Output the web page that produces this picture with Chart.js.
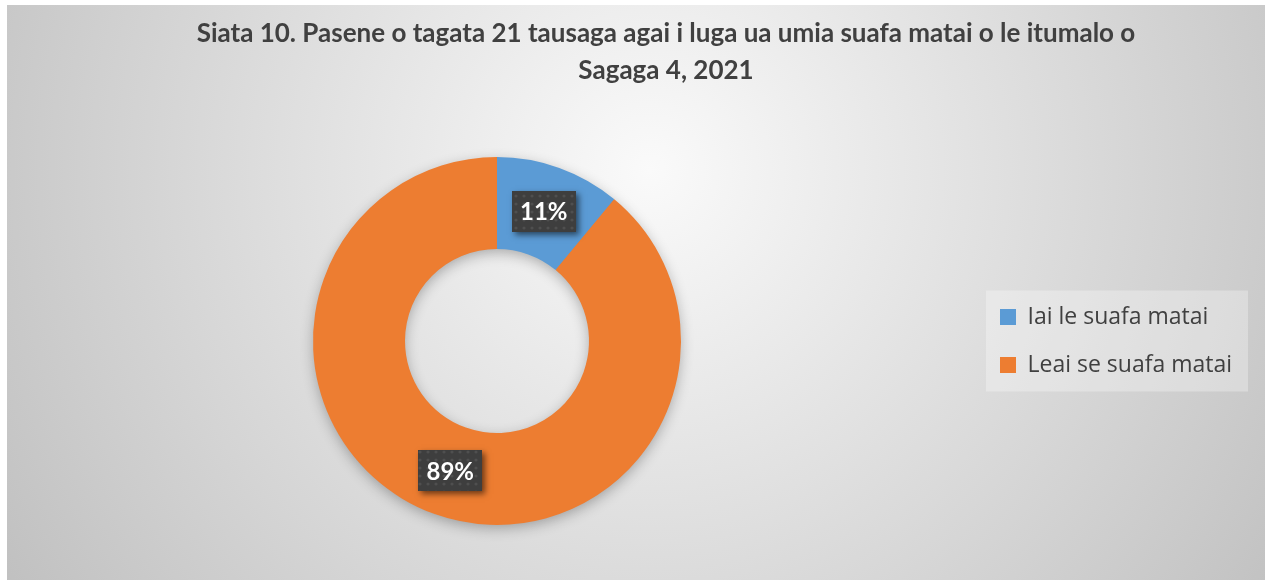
<!DOCTYPE html>
<html>
<head>
<meta charset="utf-8">
<script src="https://cdn.jsdelivr.net/npm/chart.js@4.4.0/dist/chart.umd.min.js"></script>
<style>
  html, body { margin: 0; padding: 0; background: #fff; overflow: hidden; }
  #wrap { width: 1265px; height: 580px; position: relative; }
</style>
</head>
<body>
<div id="wrap"><canvas id="chart"></canvas></div>
<script>
/* --- Data --- */
const TITLE_LINES = [
  'Siata 10. Pasene o tagata 21 tausaga agai i luga ua umia suafa matai o le itumalo o',
  'Sagaga 4, 2021'
];
const CATEGORIES = ['Iai le suafa matai', 'Leai se suafa matai'];
const VALUES = [11, 89];
const COLORS = ['#5B9BD5', '#ED7D31'];

/* --- Look --- */
const W = 1265, H = 580;
const FONT = 'Lato, "Open Sans", sans-serif';
const LEGEND_FONT = '"Open Sans", Lato, sans-serif';
const TEXT = '#404040';
const LEGEND_SIZE = 23;
const LEGEND_PAD = 25;
const LEGEND_BOX = 16;
const LEGEND_LEFT = 975;

// legend width is computed by Chart.js from the text, so pick right padding to land it where we want
const mctx = document.createElement('canvas').getContext('2d');
mctx.font = `${LEGEND_SIZE}px ${LEGEND_FONT}`;
const maxText = Math.max(...CATEGORIES.map(t => mctx.measureText(t).width));
const legendW = LEGEND_PAD + LEGEND_BOX + LEGEND_SIZE / 2 + maxText + 10;
const padRight = Math.max(0, W - LEGEND_LEFT - legendW);

/* dotted fill for the data label boxes */
function dotPattern(ctx) {
  const p = document.createElement('canvas');
  p.width = 8; p.height = 8;
  const pc = p.getContext('2d');
  pc.fillStyle = '#3e3e3e';
  pc.fillRect(0, 0, 8, 8);
  pc.fillStyle = 'rgba(255,255,255,0.09)';
  pc.beginPath(); pc.arc(4, 4, 1.6, 0, Math.PI * 2); pc.fill();
  return ctx.createPattern(p, 'repeat');
}

/* --- Background, legend panel and title --- */
const backdrop = {
  id: 'backdrop',
  beforeDraw(chart) {
    const c = chart.ctx;
    c.save();
    const g = c.createRadialGradient(650, 170, 0, 650, 170, 770);
    g.addColorStop(0, '#fafafa');
    g.addColorStop(1, '#c0c0c0');
    c.fillStyle = g;
    c.fillRect(7, 5, W - 7, H - 5);

    const lg = chart.legend;
    const hb = lg.legendHitBoxes;
    if (hb && hb.length) {
      const first = hb[0], last = hb[hb.length - 1];
      c.fillStyle = 'rgba(255,255,255,0.3)';
      c.fillRect(986, first.top - 15, 262, last.top + last.height - first.top + 30);
    }

    c.fillStyle = TEXT;
    c.font = `bold 26px ${FONT}`;
    c.textAlign = 'center';
    c.textBaseline = 'middle';
    TITLE_LINES.forEach((t, i) => c.fillText(t, 666, 34 + i * 37));
    c.restore();
  }
};

/* --- Soft shadow under the ring --- */
const ringShadow = {
  id: 'ringShadow',
  beforeDatasetsDraw(chart) {
    const a = chart.getDatasetMeta(0).data[0];
    if (!a) return;
    const c = chart.ctx;
    c.save();
    c.shadowColor = 'rgba(0,0,0,0.3)';
    c.shadowBlur = 14;
    c.shadowOffsetY = 4;
    c.fillStyle = COLORS[1];
    c.beginPath();
    c.arc(a.x, a.y, a.outerRadius - 1, 0, Math.PI * 2);
    c.arc(a.x, a.y, a.innerRadius + 1, 0, Math.PI * 2, true);
    c.fill();
    c.restore();
  }
};

/* --- Percentage labels --- */
const pctLabels = {
  id: 'pctLabels',
  afterDatasetsDraw(chart) {
    const c = chart.ctx;
    const total = VALUES.reduce((s, v) => s + v, 0);
    const pat = dotPattern(c);
    chart.getDatasetMeta(0).data.forEach((arc, i) => {
      const { x, y } = arc.tooltipPosition();
      const txt = Math.round(VALUES[i] / total * 100) + '%';
      c.save();
      c.font = `bold 24px ${FONT}`;
      const w = 64, h = 41;
      const bx = Math.round(x - w / 2), by = Math.round(y - h / 2);
      c.shadowColor = 'rgba(0,0,0,0.55)';
      c.shadowBlur = 6;
      c.shadowOffsetX = 3;
      c.shadowOffsetY = 3;
      c.fillStyle = '#3e3e3e';
      c.fillRect(bx, by, w, h);
      c.shadowColor = 'transparent';
      c.fillStyle = pat;
      c.fillRect(bx, by, w, h);
      c.fillStyle = '#ffffff';
      c.textAlign = 'center';
      c.textBaseline = 'middle';
      c.fillText(txt, x, y + 1);
      c.restore();
    });
  }
};

/* --- Chart --- */
const chart = new Chart(document.getElementById('chart'), {
  type: 'doughnut',
  data: {
    labels: CATEGORIES,
    datasets: [{
      data: VALUES,
      backgroundColor: COLORS,
      borderWidth: 0,
      hoverOffset: 0
    }]
  },
  options: {
    responsive: true,
    maintainAspectRatio: false,
    devicePixelRatio: 1,
    animation: false,
    cutout: '50%',
    layout: { padding: { top: 157, bottom: 55, left: 19, right: padRight } },
    plugins: {
      title: { display: false },
      tooltip: { enabled: false },
      legend: {
        position: 'right',
        labels: {
          color: TEXT,
          font: { family: LEGEND_FONT, size: LEGEND_SIZE },
          boxWidth: LEGEND_BOX,
          boxHeight: LEGEND_BOX,
          padding: LEGEND_PAD
        }
      }
    }
  },
  plugins: [backdrop, ringShadow, pctLabels]
});
</script>
</body>
</html>
